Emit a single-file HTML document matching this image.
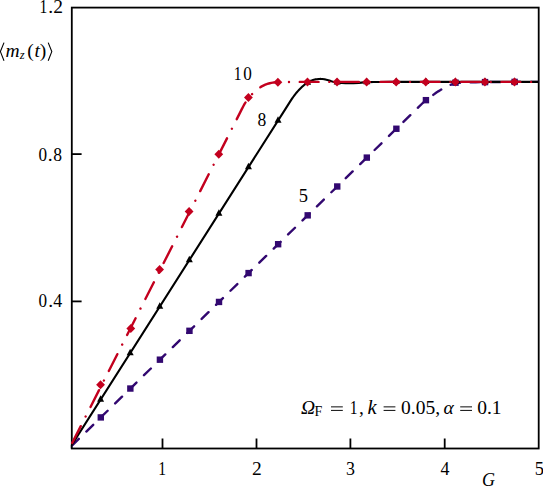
<!DOCTYPE html>
<html><head><meta charset="utf-8"><style>
html,body{margin:0;padding:0;background:#fff;width:543px;height:487px;overflow:hidden;}
svg{display:block;}
</style></head><body>
<svg width="543" height="487" viewBox="0 0 543 487">
<defs><clipPath id="c"><rect x="70.8" y="7.6" width="467.9" height="441.1"/></clipPath></defs>
<rect x="71.8" y="7.6" width="466.9" height="440.9" fill="none" stroke="#000" stroke-width="1.8"/>
<g clip-path="url(#c)">
<path d="M68.75,448.70 L414.75,110.80 L418.25,107.36 L422.25,103.50 L423.75,102.07 L425.25,100.73 L425.75,100.30 L426.75,99.51 L427.75,98.76 L428.75,98.04 L432.25,95.62 L433.25,94.90 L435.75,93.04 L436.75,92.33 L437.25,92.00 L438.25,91.36 L439.75,90.45 L444.25,87.84 L445.75,87.03 L447.25,86.26 L448.75,85.53 L449.75,85.09 L450.25,84.89 L451.75,84.34 L453.25,83.83 L454.25,83.55 L455.25,83.34 L456.25,83.20 L457.25,83.08 L459.25,82.88 L461.25,82.74 L463.75,82.61 L466.75,82.50 L470.75,82.38 L475.75,82.26 L480.75,82.16 L491.25,82.02 L499.75,81.95 L516.25,81.90 L540.75,81.90" fill="none" stroke="#320870" stroke-width="2.4" stroke-linecap="round" stroke-dasharray="9.600 10.546" stroke-dashoffset="15.707"/>
<g fill="#320870"><rect x="97.59" y="414.21" width="6.4" height="6.4"/>
<rect x="127.15" y="385.34" width="6.4" height="6.4"/>
<rect x="156.71" y="356.48" width="6.4" height="6.4"/>
<rect x="186.26" y="327.61" width="6.4" height="6.4"/>
<rect x="215.82" y="298.74" width="6.4" height="6.4"/>
<rect x="245.38" y="269.88" width="6.4" height="6.4"/>
<rect x="274.94" y="241.01" width="6.4" height="6.4"/>
<rect x="304.50" y="212.15" width="6.4" height="6.4"/>
<rect x="334.05" y="183.28" width="6.4" height="6.4"/>
<rect x="363.61" y="154.41" width="6.4" height="6.4"/>
<rect x="393.17" y="125.55" width="6.4" height="6.4"/>
<rect x="422.73" y="96.96" width="6.4" height="6.4"/>
<rect x="452.29" y="79.50" width="6.4" height="6.4"/>
<rect x="481.84" y="78.90" width="6.4" height="6.4"/>
<rect x="511.40" y="78.70" width="6.4" height="6.4"/></g>
<path d="M69.38,448.70 L287.88,105.12 L290.88,100.44 L291.88,98.92 L292.38,98.19 L293.38,96.77 L294.38,95.39 L295.38,94.07 L295.88,93.43 L296.88,92.24 L297.88,91.11 L298.88,90.04 L299.88,89.02 L301.38,87.53 L302.38,86.58 L303.38,85.67 L303.88,85.24 L304.88,84.44 L305.88,83.68 L306.88,82.98 L307.38,82.66 L308.38,82.06 L309.38,81.51 L310.38,81.00 L310.88,80.78 L311.88,80.40 L312.88,80.06 L313.88,79.76 L314.88,79.50 L315.38,79.40 L315.88,79.32 L316.88,79.18 L318.38,79.01 L319.38,78.93 L320.38,78.90 L321.38,78.93 L322.38,79.02 L324.38,79.28 L324.88,79.36 L325.38,79.46 L326.38,79.71 L328.38,80.28 L329.38,80.59 L331.38,81.25 L332.38,81.54 L333.88,81.90 L334.88,82.12 L335.88,82.32 L336.88,82.48 L338.38,82.69 L339.88,82.88 L340.88,82.99 L341.88,83.07 L345.38,83.21 L348.38,83.29 L350.88,83.29 L351.88,83.26 L353.38,83.20 L358.88,82.84 L363.88,82.42 L365.88,82.30 L369.88,82.16 L373.38,82.05 L376.38,81.99 L379.38,81.95 L389.38,81.91 L398.88,81.90 L540.88,81.90" fill="none" stroke="#000" stroke-width="2.1"/>
<g fill="#000"><path d="M100.60,395.21L104.10,401.71L97.10,401.71Z"/>
<path d="M130.17,348.71L133.67,355.21L126.67,355.21Z"/>
<path d="M159.74,302.22L163.24,308.72L156.24,308.72Z"/>
<path d="M189.31,255.72L192.81,262.22L185.81,262.22Z"/>
<path d="M218.88,209.23L222.38,215.73L215.38,215.73Z"/>
<path d="M248.45,162.73L251.95,169.23L244.95,169.23Z"/>
<path d="M278.02,116.23L281.52,122.73L274.52,122.73Z"/>
<path d="M307.59,78.13L311.09,84.63L304.09,84.63Z"/>
<path d="M337.16,78.12L340.66,84.62L333.66,84.62Z"/>
<path d="M366.73,77.87L370.23,84.37L363.23,84.37Z"/>
<path d="M396.30,77.50L399.80,84.00L392.80,84.00Z"/>
<path d="M425.87,77.50L429.37,84.00L422.37,84.00Z"/>
<path d="M455.44,77.50L458.94,84.00L451.94,84.00Z"/>
<path d="M485.01,77.50L488.51,84.00L481.51,84.00Z"/>
<path d="M514.58,77.50L518.08,84.00L511.08,84.00Z"/></g>
<path d="M69.30,448.70 L239.80,113.16 L241.80,109.15 L242.80,107.18 L243.30,106.24 L244.30,104.47 L246.30,101.14 L246.80,100.28 L247.80,98.50 L248.30,97.73 L248.80,97.11 L249.30,96.57 L250.30,95.61 L250.80,95.17 L251.80,94.36 L252.30,93.92 L252.80,93.46 L254.30,92.00 L255.30,91.07 L256.80,89.82 L257.80,89.03 L258.80,88.29 L260.30,87.27 L261.30,86.64 L261.80,86.35 L262.80,85.80 L264.30,85.08 L265.30,84.65 L265.80,84.45 L266.30,84.27 L267.30,83.94 L268.80,83.50 L269.80,83.25 L271.30,82.94 L272.80,82.68 L273.80,82.55 L275.80,82.39 L277.80,82.28 L280.30,82.19 L283.30,82.10 L286.80,82.03 L291.80,81.96 L296.30,81.91 L299.80,81.90 L540.80,81.90" fill="none" stroke="#c3001e" stroke-width="2.4" stroke-linecap="round" stroke-dasharray="0.01 10.770 18.800 10.770" stroke-dashoffset="4.264"/>
<g fill="#c3001e"><path d="M100.55,380.30L104.95,384.80L100.55,389.30L96.15,384.80Z"/>
<path d="M130.80,323.90L135.20,328.40L130.80,332.90L126.40,328.40Z"/>
<path d="M159.60,264.90L164.00,269.40L159.60,273.90L155.20,269.40Z"/>
<path d="M189.10,207.00L193.50,211.50L189.10,216.00L184.70,211.50Z"/>
<path d="M218.80,149.70L223.20,154.20L218.80,158.70L214.40,154.20Z"/>
<path d="M248.40,93.10L252.80,97.60L248.40,102.10L244.00,97.60Z"/>
<path d="M277.89,77.78L282.29,82.28L277.89,86.78L273.49,82.28Z"/>
<path d="M307.47,77.40L311.87,81.90L307.47,86.40L303.07,81.90Z"/>
<path d="M337.04,77.40L341.44,81.90L337.04,86.40L332.64,81.90Z"/>
<path d="M366.62,77.40L371.02,81.90L366.62,86.40L362.22,81.90Z"/>
<path d="M396.19,77.40L400.59,81.90L396.19,86.40L391.79,81.90Z"/>
<path d="M425.76,77.40L430.16,81.90L425.76,86.40L421.36,81.90Z"/>
<path d="M455.34,77.40L459.74,81.90L455.34,86.40L450.94,81.90Z"/>
<path d="M484.91,77.40L489.31,81.90L484.91,86.40L480.51,81.90Z"/>
<path d="M514.49,77.40L518.89,81.90L514.49,86.40L510.09,81.90Z"/></g>
</g>
<g stroke="#000" stroke-width="1.8">
<line x1="162.5" y1="448.5" x2="162.5" y2="438.5"/>
<line x1="256.5" y1="448.5" x2="256.5" y2="438.5"/>
<line x1="350.4" y1="448.5" x2="350.4" y2="438.5"/>
<line x1="444.7" y1="448.5" x2="444.7" y2="438.5"/>
<line x1="71.8" y1="301.4" x2="81.6" y2="301.4"/>
<line x1="71.8" y1="154.1" x2="81.6" y2="154.1"/>
</g>
<g style="font-family:'Liberation Serif',serif" font-size="19.5" fill="#000" text-anchor="middle">
<text transform="translate(43.48,13.3) scale(0.8,1)">1</text>
<text transform="translate(50.75,13.3) scale(1.0,1)">.</text>
<text transform="translate(58.02,13.3) scale(1.0,1)">2</text>
<text transform="translate(42.90,160.6) scale(0.88,1)">0</text>
<text transform="translate(50.30,160.6) scale(1.0,1)">.</text>
<text transform="translate(57.70,160.6) scale(0.9,1)">8</text>
<text transform="translate(42.90,307.1) scale(0.88,1)">0</text>
<text transform="translate(50.65,307.1) scale(1.0,1)">.</text>
<text transform="translate(57.72,307.1) scale(0.92,1)">4</text>
<text transform="translate(237.68,80.4) scale(0.8,1)">1</text>
<text transform="translate(247.60,80.4) scale(0.88,1)">0</text>
<text transform="translate(262.00,126.0) scale(0.9,1)">8</text>
<text transform="translate(303.49,202.0) scale(0.95,1)">5</text>
<text transform="translate(162.03,474.6) scale(0.8,1)">1</text>
<text transform="translate(256.82,474.8) scale(1.0,1)">2</text>
<text transform="translate(350.54,474.8) scale(0.92,1)">3</text>
<text transform="translate(444.92,474.6) scale(0.92,1)">4</text>
<text transform="translate(539.44,475.2) scale(0.95,1)">5</text>
</g>
<g style="font-family:'Liberation Serif',serif" fill="#000">
<text x="482" y="485.6" font-style="italic" font-size="18">G</text>
<!-- y label -->
<path d="M4,42.6 L0.4,51.6 L4,60.7 M48.2,42.6 L51.8,51.6 L48.2,60.7" fill="none" stroke="#000" stroke-width="1.1"/>
<text x="5.4" y="56.6" font-size="19.5" font-style="italic">m</text>
<text x="19.8" y="59.2" font-size="12.5" font-style="italic">z</text>
<text x="27.3" y="56.6" font-size="19.5">(</text>
<text x="34.6" y="56.6" font-size="19.5" font-style="italic">t</text>
<text x="39.8" y="56.6" font-size="19.5">)</text>
<!-- annotation -->
<text x="301" y="413.5" font-size="19.5" font-style="italic">&#937;</text>
<text x="314.6" y="416" font-size="14">F</text>
<rect x="331" y="406.3" width="11.8" height="1.1" fill="#222"/>
<rect x="331" y="409.9" width="11.8" height="1.1" fill="#222"/>
<text transform="translate(353.7,413.8) scale(0.8,1)" text-anchor="middle" font-size="19.5">1</text><text x="358.9" y="413.8" font-size="19.5">,</text>
<text x="367.4" y="413.8" font-size="20.5" font-style="italic">k</text>
<rect x="383.6" y="406.3" width="11.8" height="1.1" fill="#222"/>
<rect x="383.6" y="409.9" width="11.8" height="1.1" fill="#222"/>
<text x="401" y="413.8" font-size="19.5">0.05,</text>
<text x="443.5" y="413.8" font-size="19.5" font-style="italic">&#945;</text>
<rect x="460.2" y="406.3" width="11.8" height="1.1" fill="#222"/>
<rect x="460.2" y="409.9" width="11.8" height="1.1" fill="#222"/>
<text x="477.2" y="413.8" font-size="19.5">0.1</text>
</g>
</svg>
</body></html>
